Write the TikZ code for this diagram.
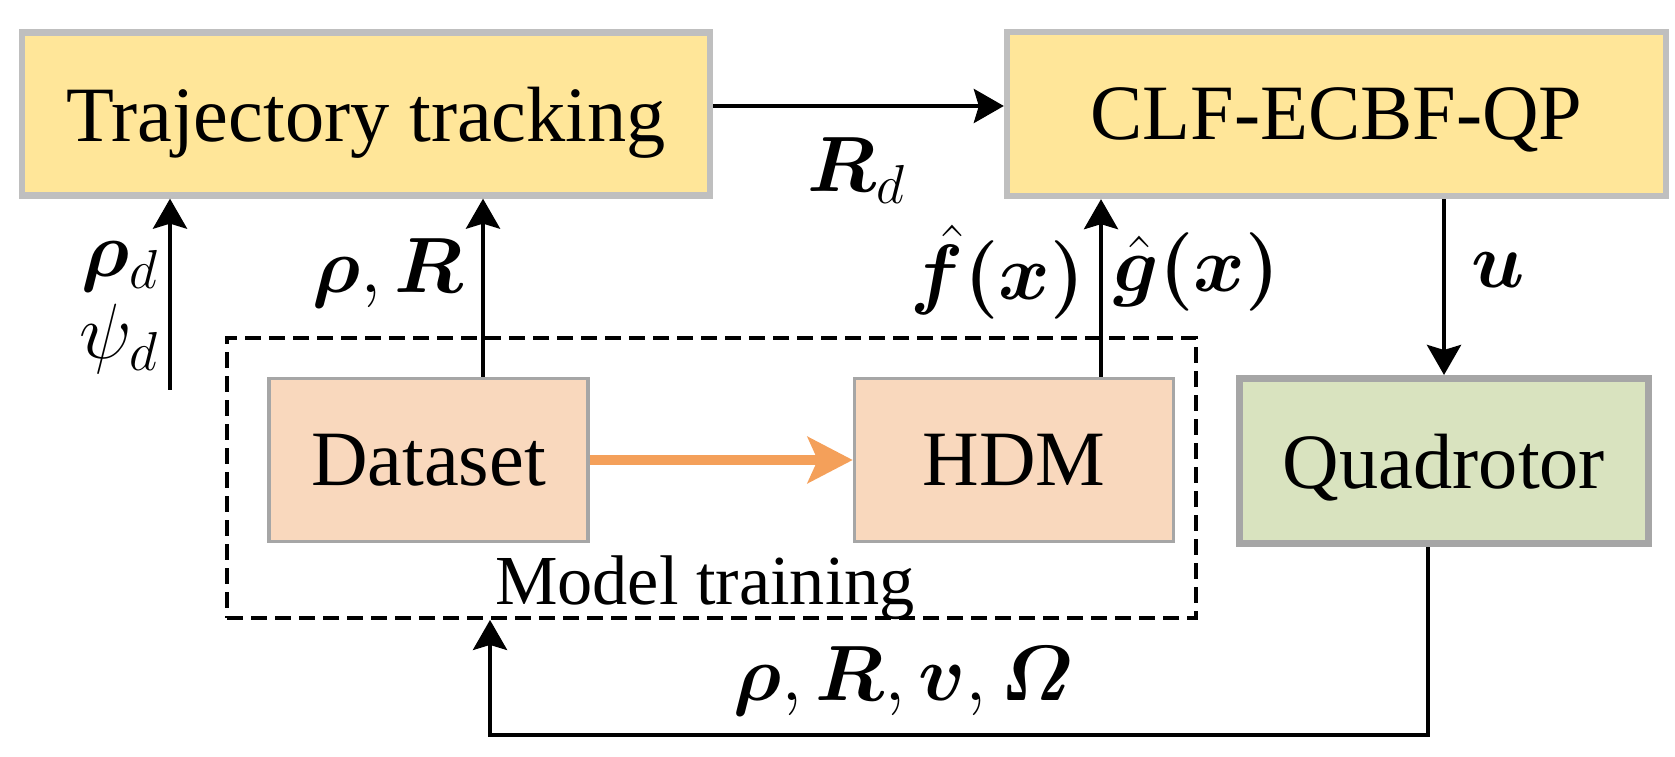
\RequirePackage{fix-cm}
\documentclass[tikz,border=0pt]{standalone}
\usepackage{amsmath}
\usepackage{bm}
\usepackage{fontspec}
\setmainfont{Liberation Serif}
\usepackage{tikz}
\usetikzlibrary{arrows.meta}

\definecolor{boxyellow}{HTML}{FFE699}
\definecolor{boxpeach}{HTML}{F9D8BD}
\definecolor{boxgreen}{HTML}{D9E3BF}
\definecolor{edgegray}{HTML}{BFBFBF}
\definecolor{edgedark}{HTML}{A6A6A6}
\definecolor{trainorange}{HTML}{F4A05A}

\begin{document}
\begin{tikzpicture}[font=\fontsize{22.3}{26}\selectfont,
      block/.style={rectangle, draw, text depth=0pt, inner sep=0pt},
      ctrl/.style={block, fill=boxyellow, draw=edgegray, line width=1.8pt},
      learn/.style={block, fill=boxpeach, draw=edgedark, line width=1pt, minimum width=3.19cm, minimum height=1.63cm},
      plant/.style={block, fill=boxgreen, draw=edgedark, line width=2pt},
      sig/.style={inner sep=0pt},
      arr/.style={-{Stealth[length=0.3cm, width=0.34cm, inset=0.05cm]}, line width=1.2pt}
      ]
      \useasboundingbox (0,0) rectangle (16.75,7.57);
      \node[ctrl, minimum width=6.88cm, minimum height=1.63cm] (traj) at (3.66,6.43) {Trajectory tracking};
      \node[ctrl, minimum width=6.59cm, minimum height=1.64cm] (clf) at (13.365,6.43) {CLF-ECBF-QP};
      \node[learn] (data) at (4.285,2.97) {Dataset};
      \node[learn] (hdm) at (10.14,2.97) {HDM};
      \node[plant, minimum width=4.09cm, minimum height=1.65cm] (quad) at (14.44,2.96) {Quadrotor};
      \node[draw, dash pattern=on 0.16cm off 0.08cm, line width=1.1pt, minimum width=9.69cm, minimum height=2.8cm] (train) at (7.115,2.79) {};
      \node[text depth=0pt, font=\fontsize{20}{24}\selectfont] (trainlbl) at (7.05,1.77) {Model training};

      \draw[arr] ([yshift=0.08cm]traj.east) -- ([yshift=0.08cm]traj.east -| clf.west);
      \coordinate (refin) at (1.70,3.67);
      \draw[arr] (refin) -- (refin |- traj.south);
      \draw[arr] ([xshift=0.545cm]data.north) -- ([xshift=0.545cm]data.north |- traj.south);
      \draw[arr] ([xshift=0.87cm]hdm.north) -- ([xshift=0.87cm]hdm.north |- clf.south);
      \draw[arr] (quad.north |- clf.south) -- (quad.north);
      \draw[-{Stealth[length=0.45cm, width=0.46cm, inset=0.1cm]}, line width=2.6pt, trainorange] (data.east) -- (hdm.west);
      \coordinate (fbcorner) at (4.90,0.22);
      \draw[arr] ([xshift=-0.16cm]quad.south) |- (fbcorner) -- (fbcorner |- train.south);

      \node[sig, anchor=east] (rhod) at (1.60,4.90) {$\bm{\rho}_d$};
      \node[sig, anchor=east] (psid) at (1.60,4.18) {$\psi_d$};
      \node[sig] (posrot) at (3.88,4.84) {$\bm{\rho}, \bm{R}$};
      \node[sig, anchor=east] (fhat) at (10.85,4.85) {$\hat{\bm{f}}\bm{(x)}$};
      \node[sig, anchor=west] (ghat) at (11.13,4.85) {$\hat{\bm{g}}\bm{(x)}$};
      \node[sig] (uin) at (14.98,4.87) {$\bm{u}$};
      \node[sig] (rdes) at (8.57,5.86) {$\bm{R}_d$};
      \node[sig] (state) at (9.03,0.76) {$\bm{\rho}, \bm{R}, \bm{v}, \bm{\varOmega}$};
    \end{tikzpicture}
\end{document}
